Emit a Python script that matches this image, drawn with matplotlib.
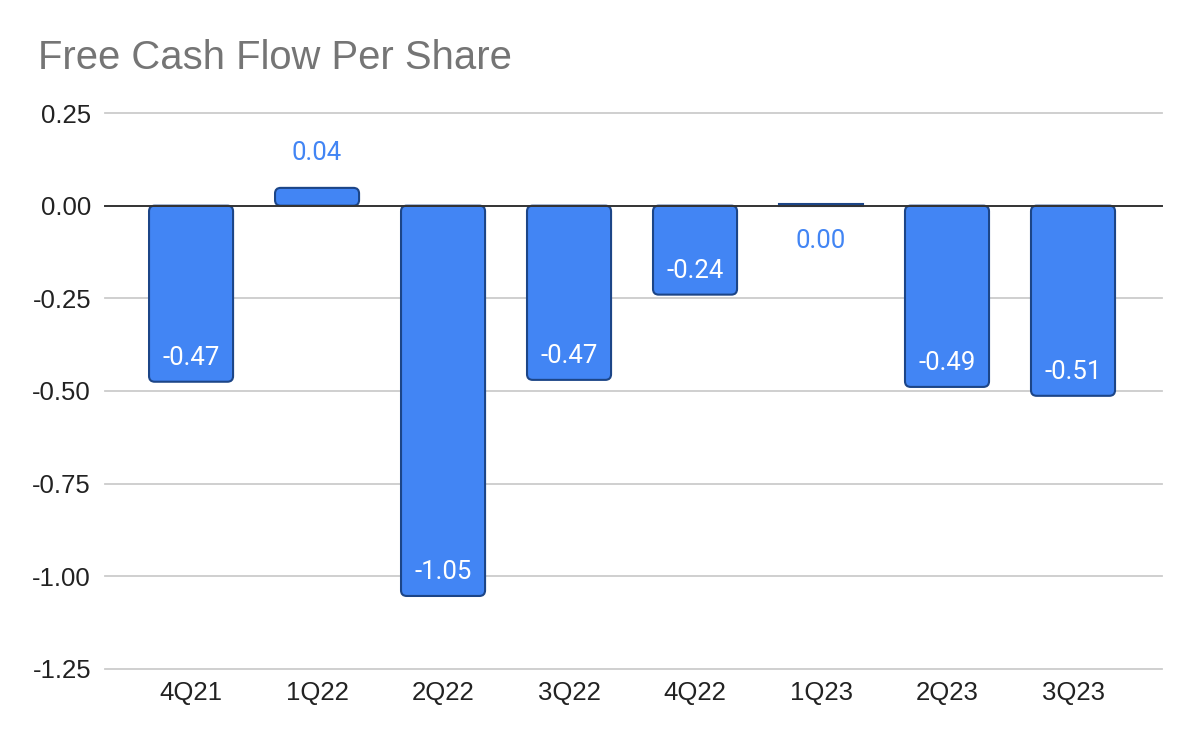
import matplotlib
matplotlib.use("Agg")
import matplotlib.pyplot as plt
from matplotlib.patches import FancyBboxPatch

# data
quarters = ['4Q21', '1Q22', '2Q22', '3Q22', '4Q22', '1Q23', '2Q23', '3Q23']
fcf_per_share = [-0.475, 0.048, -1.053, -0.47, -0.24, 0.004, -0.489, -0.513]
bar_labels = ['-0.47', '0.04', '-1.05', '-0.47', '-0.24', '0.00', '-0.49', '-0.51']
y_ticks = [0.25, 0.0, -0.25, -0.5, -0.75, -1.0, -1.25]

plt.rcParams['font.family'] = ['Liberation Sans', 'DejaVu Sans']

fill = '#4285F4'
edge = '#1C4587'

fig = plt.figure(figsize=(12, 7.42), dpi=100)
ax = fig.add_axes([0.0875, 0.0984, 0.8808, 0.7493])
ax.set_xlim(-0.683, 7.706)
ax.set_ylim(-1.25, 0.25)

x = list(range(len(quarters)))
bars = ax.bar(x, fcf_per_share, width=0.667, color=fill, edgecolor=edge,
              linewidth=1.5, zorder=3)

# swap the plain rectangles for slightly rounded ones
for i, b in enumerate(bars):
    h = b.get_height()
    if abs(h) < 0.02:
        b.set_facecolor(edge)
        continue
    b.set_visible(False)
    y0 = min(b.get_y(), b.get_y() + h)
    p = FancyBboxPatch((b.get_x(), y0), b.get_width(), abs(h),
                       boxstyle='round,pad=0,rounding_size=0.045',
                       mutation_aspect=0.34, facecolor=fill, edgecolor=edge,
                       linewidth=1.5, zorder=3)
    ax.add_patch(p)

lab_font = ['Roboto', 'DejaVu Sans']
for xi, v, lab in zip(x, fcf_per_share, bar_labels):
    if v < -0.1:
        ax.text(xi, v + 0.064, lab, ha='center', va='center', color='white',
                fontsize=18.5, family=lab_font, zorder=5)
    elif v > 0.01:
        ax.text(xi, v + 0.095, lab, ha='center', va='center', color=fill,
                fontsize=18.5, family=lab_font, zorder=5)
    else:
        ax.text(xi, -0.095, lab, ha='center', va='center', color=fill,
                fontsize=18.5, family=lab_font, zorder=5)

ax.set_yticks(y_ticks)
ax.set_yticklabels([f'{t:.2f}' for t in y_ticks])
ax.set_xticks(x)
ax.set_xticklabels(quarters)
ax.tick_params(axis='both', length=0, labelsize=18.5, colors='#222222')
ax.tick_params(axis='y', pad=10)
ax.tick_params(axis='x', pad=9)

for t in y_ticks:
    if t == 0:
        ax.axhline(t, color='#333333', linewidth=1.4, zorder=4, clip_on=False)
    else:
        ax.axhline(t, color='#cccccc', linewidth=1.3, zorder=1, clip_on=False)

for s in ax.spines.values():
    s.set_visible(False)

fig.text(0.032, 1 - 69 / 742, 'Free Cash Flow Per Share', fontsize=28.8,
         color='#757575', ha='left', va='baseline')

fig.savefig('out.png', dpi=100)
